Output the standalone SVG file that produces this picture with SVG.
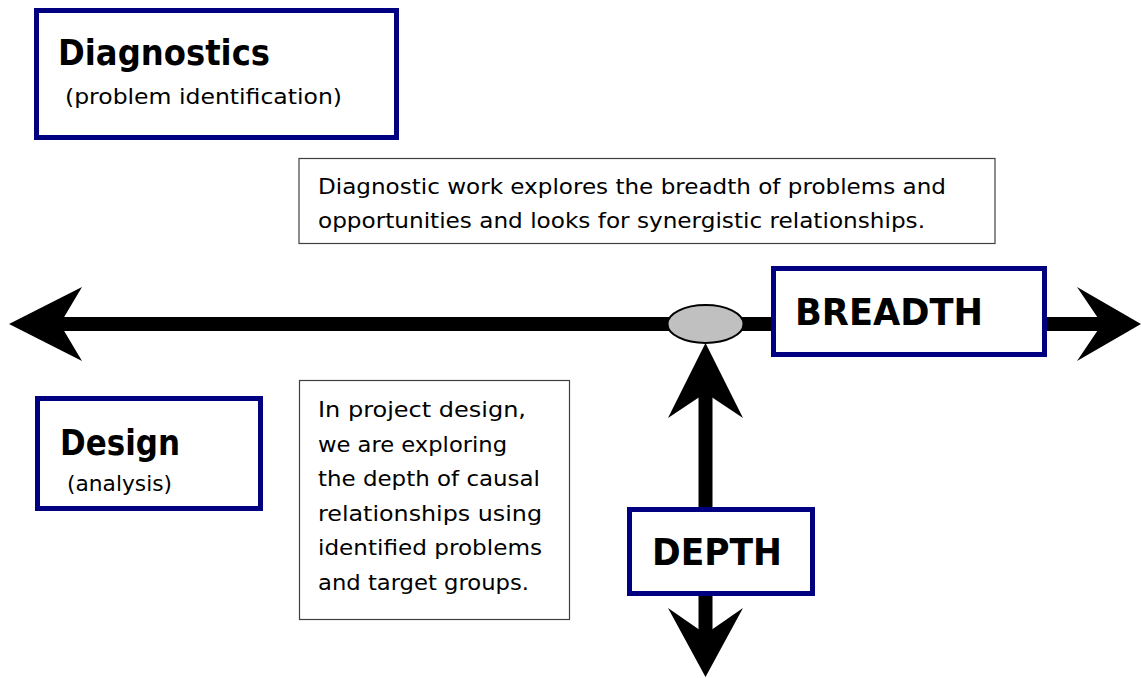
<svg xmlns="http://www.w3.org/2000/svg" width="1141" height="678" viewBox="0 0 1141 678">
<style>
.frame{fill:#fff;stroke:#000080;stroke-width:5}
.note{fill:#fff;stroke:#404040;stroke-width:1.2}
.title{font-family:"DejaVu Sans",sans-serif;font-weight:bold;font-size:36px;fill:#000}
.big{font-family:"DejaVu Sans",sans-serif;font-weight:bold;font-size:38px;fill:#000}
.sub{font-family:"DejaVu Sans",sans-serif;font-size:22px;fill:#000}
.body{font-family:"DejaVu Sans",sans-serif;font-size:22px;fill:#000}
.shaft{stroke:#000;stroke-width:14;fill:none}
.head{fill:#000;stroke:none}
</style>
<rect width="1141" height="678" fill="#fff"/>
<g id="connectors">
<line class="shaft" x1="60" y1="324" x2="1102" y2="324"/>
<polygon class="head" points="9,324 82,287 60,324 82,361"/>
<polygon class="head" points="1141,324 1077,287 1102,324 1077,361"/>
<line class="shaft" x1="705.5" y1="393" x2="705.5" y2="634"/>
<polygon class="head" points="705.5,343 743,418 705.5,393 668,418"/>
<polygon class="head" points="705.5,677 743,608 705.5,634 668,608"/>
</g>
<g id="junction">
<ellipse cx="705.5" cy="324" rx="38" ry="19" fill="#c0c0c0" stroke="#000" stroke-width="2"/>
</g>
<g id="diagnostics">
<rect class="frame" x="36.5" y="10.5" width="360" height="127"/>
<text class="title" x="58" y="65" textLength="212" lengthAdjust="spacingAndGlyphs">Diagnostics</text>
<text class="sub" x="65" y="104" textLength="277" lengthAdjust="spacingAndGlyphs">(problem identification)</text>
</g>
<g id="breadth-note">
<rect class="note" x="299" y="158.5" width="696" height="85"/>
<text class="body" x="318" y="194" textLength="628" lengthAdjust="spacingAndGlyphs">Diagnostic work explores the breadth of problems and</text>
<text class="body" x="318" y="228" textLength="607" lengthAdjust="spacingAndGlyphs">opportunities and looks for synergistic relationships.</text>
</g>
<g id="breadth">
<rect class="frame" x="773.5" y="268.5" width="271" height="86"/>
<text class="big" x="795" y="325" textLength="188" lengthAdjust="spacingAndGlyphs">BREADTH</text>
</g>
<g id="design">
<rect class="frame" x="37.5" y="398.5" width="223" height="110"/>
<text class="title" x="60" y="455" textLength="120" lengthAdjust="spacingAndGlyphs">Design</text>
<text class="sub" x="67" y="491" textLength="105" lengthAdjust="spacingAndGlyphs">(analysis)</text>
</g>
<g id="depth-note">
<rect class="note" x="299.5" y="380.5" width="270" height="239"/>
<text class="body" x="318" y="417" textLength="208" lengthAdjust="spacingAndGlyphs">In project design,</text>
<text class="body" x="318" y="452" textLength="189" lengthAdjust="spacingAndGlyphs">we are exploring</text>
<text class="body" x="318" y="486" textLength="222" lengthAdjust="spacingAndGlyphs">the depth of causal</text>
<text class="body" x="318" y="521" textLength="224" lengthAdjust="spacingAndGlyphs">relationships using</text>
<text class="body" x="318" y="555" textLength="224" lengthAdjust="spacingAndGlyphs">identified problems</text>
<text class="body" x="318" y="590" textLength="211" lengthAdjust="spacingAndGlyphs">and target groups.</text>
</g>
<g id="depth">
<rect class="frame" x="629.5" y="509.5" width="183" height="84"/>
<text class="big" x="652" y="565" textLength="130" lengthAdjust="spacingAndGlyphs">DEPTH</text>
</g>
</svg>
